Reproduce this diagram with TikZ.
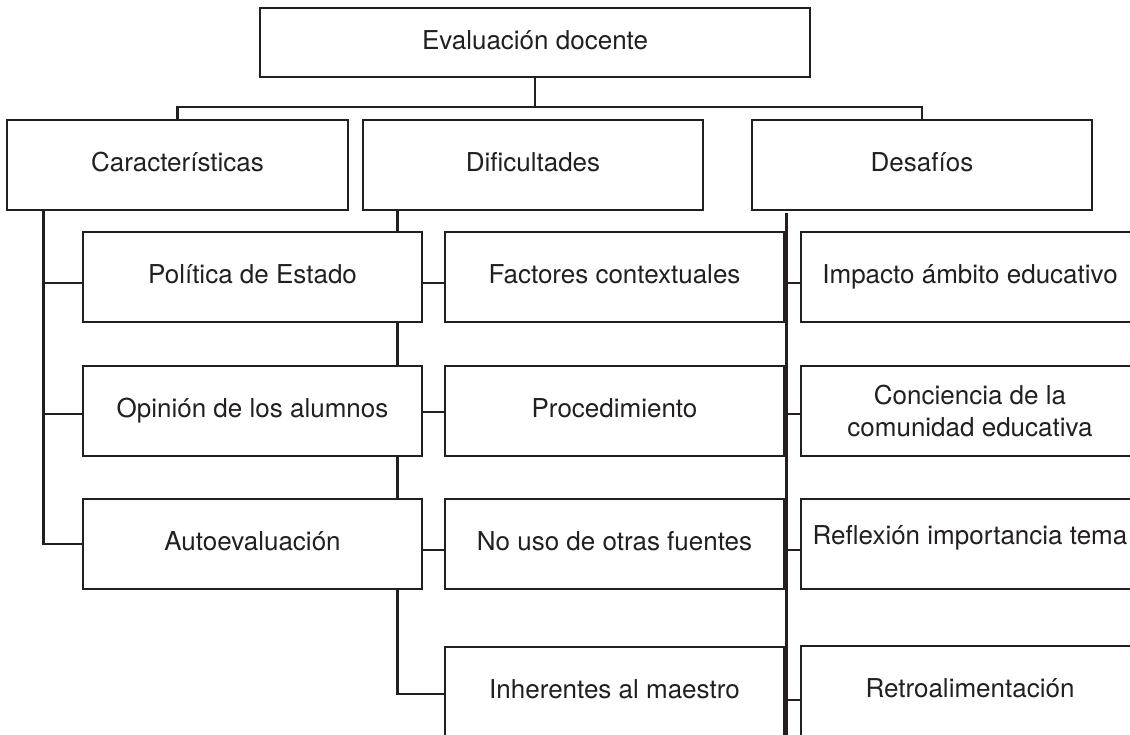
\documentclass[tikz,border=0pt]{standalone}
\usepackage{fontspec}
\setmainfont{TeX Gyre Heros}
\definecolor{ink}{HTML}{231F20}
\begin{document}
\begin{tikzpicture}[x=1pt,y=-1pt,
  bx/.style={draw=ink, text=ink, line width=2.4pt, inner sep=0pt, minimum height=90pt,
             font=\fontsize{26}{32}\selectfont, text height=19pt, text depth=6pt},
  wide/.style={minimum width=340pt},
  colbox/.style={minimum width=339pt},
  link/.style={draw=ink, line width=2.4pt}]
\useasboundingbox (0,0) rectangle (1130,734);
\clip (0,0) rectangle (1130,734);
% root
\node[bx, minimum width=550pt, minimum height=69pt] (top) at (535,42.5) {Evaluación docente};
% level 1
\node[bx, minimum width=341pt] (car) at (177.5,165) {Características};
\node[bx, wide] (dif) at (533,165) {Dificultades};
\node[bx, wide] (des) at (922,165) {Desafíos};
% column A
\node[bx, colbox] (pol) at (252.5,277) {Política de Estado};
\node[bx, colbox] (opi) at (252.5,411) {Opinión de los alumnos};
\node[bx, colbox] (aut) at (252.5,544) {Autoevaluación};
% column B
\node[bx, colbox] (fac) at (614.5,277) {Factores contextuales};
\node[bx, colbox] (pro) at (614.5,411) {Procedimiento};
\node[bx, colbox] (nou) at (614.5,544) {No uso de otras fuentes};
\node[bx, colbox] (inh) at (614.5,692) {Inherentes al maestro};
% column C
\node[bx, colbox, minimum width=338pt] (imp) at (970,277) {Impacto ámbito educativo};
\node[bx, colbox, minimum width=338pt, text height=, text depth=, align=center] (con) at (970,411) {Conciencia de la\\comunidad educativa};
\node[bx, colbox, minimum width=338pt] (ref) at (970,544) {\raisebox{6pt}[\height][\depth]{Reflexión importancia tema}};
\node[bx, colbox, minimum width=338pt] (ret) at (970,691) {Retroalimentación};
% helper coordinates
\coordinate (busy) at (0,107);
\coordinate (cv) at (43.6,0);
\coordinate (dv) at (397.5,0);
\coordinate (ev) at (786.6,0);
\coordinate (bot) at (0,745);
% root bus
\draw[link] (top.south) -- (top.south |- busy);
\draw[link] (car.north) -- (car.north |- busy) -- (des.north |- busy) -- (des.north);
% Caracteristicas
\draw[link] (car.south -| cv) -- (cv |- aut.west) -- (aut.west);
\draw[link] ([yshift=-6pt]pol.west -| cv) -- ([yshift=-6pt]pol.west);
\draw[link] ([yshift=-3pt]opi.west -| cv) -- ([yshift=-3pt]opi.west);
% Dificultades
\draw[link] (dif.south -| dv) -- (pol.north -| dv);
\draw[link] (pol.south -| dv) -- (opi.north -| dv);
\draw[link] (opi.south -| dv) -- (aut.north -| dv);
\draw[link] (aut.south -| dv) |- ([yshift=-2pt]inh.west);
\draw[link] ([yshift=-6pt]pol.east) -- ([yshift=-6pt]fac.west);
\draw[link] ([yshift=-1pt]opi.east) -- ([yshift=-1pt]pro.west);
\draw[link] ([yshift=-6pt]aut.east) -- ([yshift=-6pt]nou.west);
% Desafios
\draw[link] ([yshift=-2pt]des.south -| ev) -- (bot -| ev);
\draw[link] ([yshift=-6pt]imp.west -| ev) -- ([yshift=-6pt]imp.west);
\draw[link] ([yshift=-3pt]con.west -| ev) -- ([yshift=-3pt]con.west);
\draw[link] ([yshift=-6pt]ref.west -| ev) -- ([yshift=-6pt]ref.west);
\draw[link] ([yshift=-9pt]ret.west -| ev) -- ([yshift=-9pt]ret.west);
\end{tikzpicture}
\end{document}
